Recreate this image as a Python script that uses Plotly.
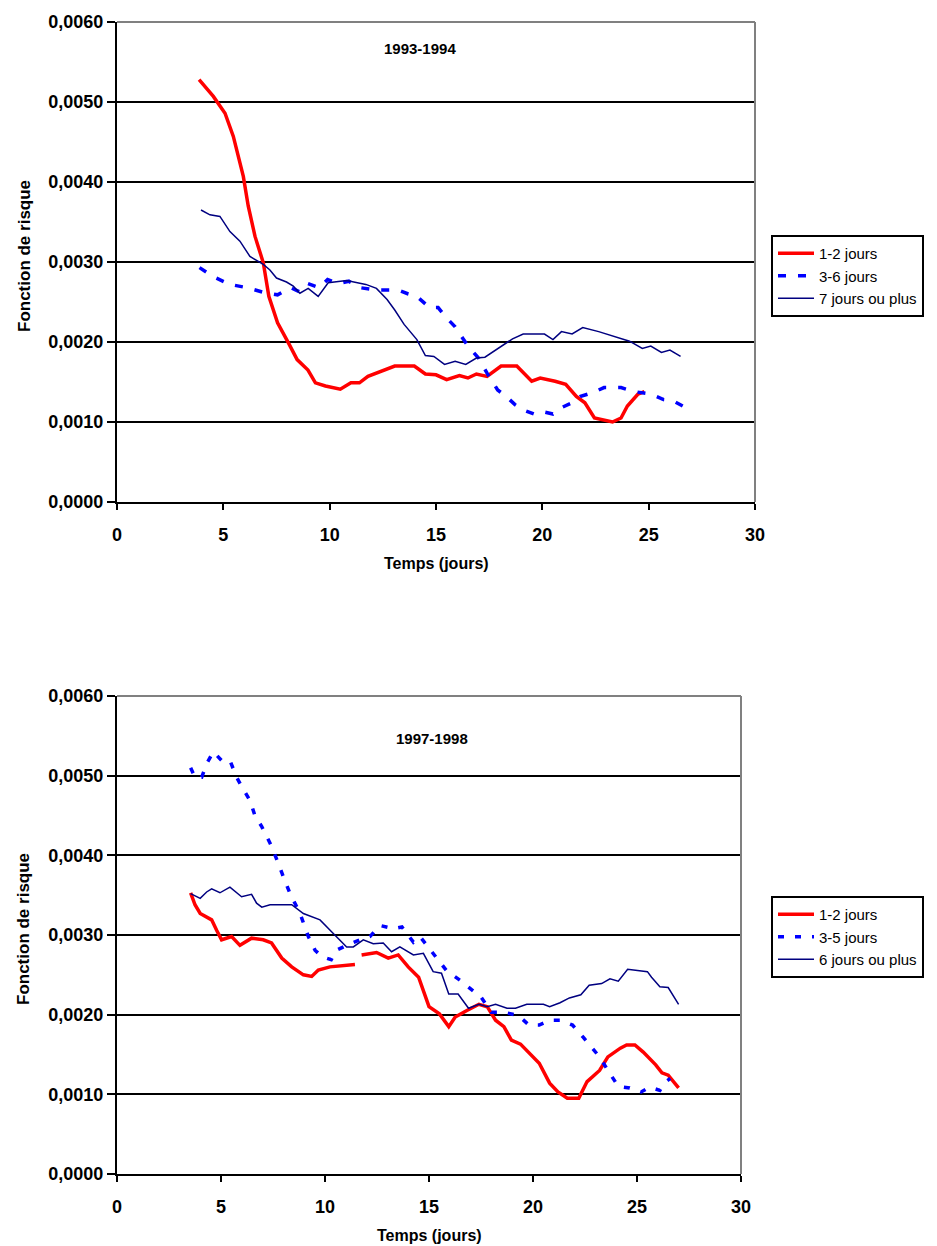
import plotly.graph_objects as go

# ---------------- 1993-1994 ----------------
top_title = "1993-1994"
top_names = ["1-2 jours", "3-6 jours", "7 jours ou plus"]

top_red_x = [3.86, 4.53, 5.08, 5.47, 5.94, 6.17, 6.49, 6.88, 7.14, 7.55, 8.06, 8.47, 8.98, 9.33, 9.80,
             10.5, 11.0, 11.4, 11.8, 12.4, 13.06, 13.98, 14.5, 15.0, 15.5, 16.1, 16.5, 16.9, 17.4, 18.06,
             18.8, 19.5, 19.9, 20.6, 21.1, 21.6, 22.0, 22.45, 22.9, 23.3, 23.7, 24.0, 24.5, 24.8]
top_red_y = [0.00528, 0.00507, 0.00486, 0.00457, 0.00407, 0.00370, 0.00332, 0.00299, 0.00257, 0.00224,
             0.00199, 0.00178, 0.00165, 0.00149, 0.00145, 0.00141, 0.00149, 0.00149, 0.00157, 0.00163,
             0.00170, 0.00170, 0.00160, 0.00159, 0.00153, 0.00158, 0.00155, 0.00160, 0.00157, 0.00170,
             0.00170, 0.00151, 0.00155, 0.00151, 0.00147, 0.00132, 0.00124, 0.00105, 0.00102, 0.00100,
             0.00105, 0.00120, 0.00135, 0.00138]

top_blue_x = [3.88, 4.5, 5.3, 6.1, 6.9, 7.55, 8.16, 8.57, 8.98, 9.5, 9.9, 10.4, 10.9, 11.4, 12.2, 13.2,
              13.7, 14.1, 14.7, 15.1, 15.5, 15.9, 16.5, 17.0, 17.4, 17.9, 18.3, 18.7, 19.1, 19.6, 20.0,
              20.5, 20.9, 21.4, 21.8, 22.4, 22.9, 23.7, 24.3, 25.1, 25.7, 26.1, 26.6]
top_blue_y = [0.00293, 0.00282, 0.00272, 0.00268, 0.00262, 0.00259, 0.00268, 0.00263, 0.00273, 0.00268,
              0.00278, 0.00273, 0.00276, 0.00268, 0.00265, 0.00265, 0.00260, 0.00257, 0.00243, 0.00243,
              0.00230, 0.00219, 0.00195, 0.00180, 0.00161, 0.00140, 0.00132, 0.00122, 0.00115, 0.00110,
              0.00113, 0.00110, 0.00118, 0.00124, 0.00132, 0.00137, 0.00143, 0.00143, 0.00138, 0.00135,
              0.00128, 0.00127, 0.00120]

top_navy_x = [3.95, 4.37, 4.84, 5.31, 5.78, 6.25, 6.88, 7.19, 7.5, 7.97, 8.29, 8.6, 8.99, 9.46, 9.93,
              10.8, 11.7, 12.2, 12.7, 13.06, 13.5, 14.1, 14.5, 14.9, 15.4, 15.9, 16.4, 16.9, 17.3, 17.96,
              18.6, 19.1, 20.1, 20.5, 20.9, 21.4, 21.9, 22.65, 23.5, 24.1, 24.7, 25.1, 25.6, 26.0, 26.5]
top_navy_y = [0.00365, 0.00359, 0.00357, 0.00338, 0.00326, 0.00307, 0.00297, 0.00290, 0.00280, 0.00275,
              0.00270, 0.00261, 0.00267, 0.00257, 0.00274, 0.00277, 0.00272, 0.00267, 0.00253, 0.00240,
              0.00222, 0.00203, 0.00183, 0.00182, 0.00172, 0.00176, 0.00172, 0.00180, 0.00181, 0.00193,
              0.00204, 0.00210, 0.00210, 0.00203, 0.00213, 0.00210, 0.00218, 0.00213, 0.00206, 0.00201,
              0.00192, 0.00195, 0.00187, 0.00190, 0.00182]

# ---------------- 1997-1998 ----------------
bot_title = "1997-1998"
bot_names = ["1-2 jours", "3-5 jours", "6 jours ou plus"]

bot_red_x = [3.54, 3.75, 4.0, 4.31, 4.55, 4.79, 5.03, 5.51, 5.91, 6.47, 7.03, 7.43, 7.92, 8.4, 8.96,
             9.36, 9.68, 10.24, 10.72, 11.44, 11.6, 11.76, 12.48, 13.04, 13.52, 14.0, 14.5, 15.0, 15.5,
             15.95, 16.26, 16.8, 17.4, 17.8, 18.2, 18.6, 18.96, 19.4, 19.9, 20.3, 20.8, 21.2, 21.65,
             22.2, 22.6, 23.2, 23.6, 24.2, 24.5, 24.9, 25.3, 25.9, 26.2, 26.5, 27.0]
bot_red_y = [0.00353, 0.00338, 0.00327, 0.00323, 0.00319, 0.00306, 0.00294, 0.00298, 0.00287, 0.00296,
             0.00294, 0.00290, 0.00271, 0.00260, 0.00250, 0.00248, 0.00256, 0.00260, 0.00261, 0.00263,
             None, 0.00275, 0.00278, 0.00271, 0.00275, 0.00260, 0.00247, 0.00210, 0.00201, 0.00185,
             0.00197, 0.00205, 0.00213, 0.00210, 0.00193, 0.00185, 0.00168, 0.00163, 0.00149, 0.00139,
             0.00114, 0.00103, 0.00095, 0.00095, 0.00116, 0.00130, 0.00147, 0.00158, 0.00162, 0.00162,
             0.00153, 0.00137, 0.00127, 0.00124, 0.00108]

bot_blue_x = [3.54, 3.75, 4.07, 4.31, 4.63, 5.03, 5.43, 5.75, 6.0, 6.39, 6.63, 6.96, 7.44, 7.68, 8.0,
              8.32, 8.8, 9.2, 9.52, 9.84, 10.3, 10.56, 11.04, 11.7, 12.16, 12.64, 13.28, 13.7, 14.25,
              14.57, 15.2, 15.85, 16.5, 17.0, 17.5, 18.0, 18.6, 19.3, 19.8, 20.3, 20.8, 21.3, 21.9,
              22.4, 23.2, 23.7, 24.1, 24.65, 25.2, 25.6, 26.1, 26.3, 26.6]
bot_blue_y = [0.00510, 0.00498, 0.00498, 0.00515, 0.00530, 0.00519, 0.00519, 0.00498, 0.00486, 0.00469,
              0.00450, 0.00436, 0.00411, 0.00394, 0.00373, 0.00352, 0.00327, 0.00298, 0.00281, 0.00273,
              0.00269, 0.00281, 0.00287, 0.00294, 0.00298, 0.00312, 0.00308, 0.00310, 0.00291, 0.00298,
              0.00277, 0.00255, 0.00243, 0.00233, 0.00222, 0.00203, 0.00203, 0.00199, 0.00187, 0.00187,
              0.00193, 0.00193, 0.00187, 0.00172, 0.00147, 0.00126, 0.00110, 0.00108, 0.00103, 0.00109,
              0.00105, 0.00114, 0.00120]

bot_navy_x = [3.54, 4.0, 4.31, 4.55, 4.95, 5.43, 5.99, 6.47, 6.71, 6.96, 7.36, 8.4, 8.96, 9.76, 10.4,
              11.04, 11.36, 11.84, 12.32, 12.8, 13.2, 13.6, 14.25, 14.73, 15.2, 15.6, 15.95, 16.4, 16.9,
              17.4, 17.8, 18.2, 18.75, 19.16, 19.7, 20.5, 20.8, 21.3, 21.75, 22.3, 22.7, 23.3, 23.7,
              24.1, 24.55, 25.07, 25.5, 25.7, 26.1, 26.5, 26.7, 27.0]
bot_navy_y = [0.00352, 0.00346, 0.00354, 0.00358, 0.00353, 0.00360, 0.00348, 0.00351, 0.00340, 0.00335,
              0.00338, 0.00338, 0.00327, 0.00319, 0.00302, 0.00285, 0.00285, 0.00294, 0.00289, 0.00290,
              0.00279, 0.00285, 0.00275, 0.00277, 0.00254, 0.00252, 0.00226, 0.00226, 0.00208, 0.00213,
              0.00210, 0.00213, 0.00208, 0.00208, 0.00213, 0.00213, 0.00210, 0.00215, 0.00221, 0.00225,
              0.00237, 0.00239, 0.00245, 0.00242, 0.00257, 0.00255, 0.00254, 0.00247, 0.00235, 0.00234,
              0.00226, 0.00213]

y_ticks = [0, 0.001, 0.002, 0.003, 0.004, 0.005, 0.006]
x_ticks = [0, 5, 10, 15, 20, 25, 30]
x_title = "Temps (jours)"
y_title = "Fonction de risque"

W, H = 937, 1246
FONT = "Arial, Liberation Sans, sans-serif"

RED = "#FF0000"
BLUE = "#0000FF"
NAVY = "#000080"


def px(xp):
    return xp / W


def py(yp):
    return 1 - yp / H


fig = go.Figure()


def add_panel(xr, yr, leg, names, red, blue, navy, blue_dash):
    fig.add_trace(go.Scatter(x=red[0], y=red[1], name=names[0], mode="lines",
                             line=dict(color=RED, width=3.5), xaxis=xr, yaxis=yr, legend=leg,
                             connectgaps=False))
    fig.add_trace(go.Scatter(x=blue[0], y=blue[1], name=names[1], mode="lines",
                             line=dict(color=BLUE, width=3.5, dash=blue_dash), xaxis=xr, yaxis=yr,
                             legend=leg))
    fig.add_trace(go.Scatter(x=navy[0], y=navy[1], name=names[2], mode="lines",
                             line=dict(color=NAVY, width=1.5), xaxis=xr, yaxis=yr, legend=leg))


add_panel("x", "y", "legend", top_names, (top_red_x, top_red_y), (top_blue_x, top_blue_y),
          (top_navy_x, top_navy_y), "8px,12px")
add_panel("x2", "y2", "legend2", bot_names, (bot_red_x, bot_red_y), (bot_blue_x, bot_blue_y),
          (bot_navy_x, bot_navy_y), "6px,11px")

# plot-area geometry in page pixels
top_px = dict(l=117, r=755, t=22, b=502)
bot_px = dict(l=117, r=741, t=696, b=1174)

tickfont = dict(family=FONT, size=18, color="black", weight="bold")


def xaxis_cfg(p, anchor):
    return dict(domain=[px(p["l"]), px(p["r"])], anchor=anchor, range=[0, 30], tickvals=x_ticks,
                showgrid=False, zeroline=False, showline=True, linecolor="black", linewidth=2,
                ticks="outside", ticklen=6, tickwidth=2, tickcolor="black", tickfont=tickfont,
                ticklabelstandoff=9, automargin=False, fixedrange=True)


def yaxis_cfg(p, anchor):
    return dict(domain=[py(p["b"]), py(p["t"])], anchor=anchor, range=[0, 0.006], tickvals=y_ticks,
                tickformat=".4f", showgrid=True, gridcolor="black", gridwidth=1.5,
                zeroline=False, showline=True, linecolor="black", linewidth=2,
                ticks="outside", ticklen=8, tickwidth=2, tickcolor="black", tickfont=tickfont,
                automargin=False, fixedrange=True)


shapes = []
for p in (top_px, bot_px):
    shapes.append(dict(type="line", xref="paper", yref="paper", layer="above",
                       x0=px(p["l"]), x1=px(p["r"]), y0=py(p["t"]), y1=py(p["t"]),
                       line=dict(color="#808080", width=2)))
    shapes.append(dict(type="line", xref="paper", yref="paper", layer="above",
                       x0=px(p["r"]), x1=px(p["r"]), y0=py(p["t"]), y1=py(p["b"]),
                       line=dict(color="#808080", width=2)))

annotations = []
for p, ttl, tx, ty in ((top_px, top_title, 420, 48), (bot_px, bot_title, 432, 738)):
    annotations.append(dict(text="<b>" + ttl + "</b>", xref="paper", yref="paper",
                            x=px(tx), y=py(ty), showarrow=False,
                            xanchor="center", yanchor="middle",
                            font=dict(family=FONT, size=15, color="black")))
    annotations.append(dict(text="<b>" + x_title + "</b>", xref="paper", yref="paper",
                            x=px((p["l"] + p["r"]) / 2), y=py(p["b"] + 61), showarrow=False,
                            xanchor="center", yanchor="middle",
                            font=dict(family=FONT, size=16, color="black")))
    annotations.append(dict(text="<b>" + y_title + "</b>", xref="paper", yref="paper",
                            x=px(24), y=py((p["t"] + p["b"]) / 2 - 6), showarrow=False,
                            textangle=-90, xanchor="center", yanchor="middle",
                            font=dict(family=FONT, size=17, color="black")))

legend_common = dict(xanchor="left", yanchor="top", bgcolor="white", bordercolor="black",
                     borderwidth=2, font=dict(family=FONT, size=15, color="black"),
                     tracegroupgap=0, itemwidth=36)

fig.update_layout(
    width=W, height=H,
    margin=dict(l=0, r=0, t=0, b=0, autoexpand=False),
    paper_bgcolor="white", plot_bgcolor="white",
    separators=",.",
    font=dict(family=FONT, color="black"),
    xaxis=xaxis_cfg(top_px, "y"),
    yaxis=yaxis_cfg(top_px, "x"),
    xaxis2=xaxis_cfg(bot_px, "y2"),
    yaxis2=yaxis_cfg(bot_px, "x2"),
    legend=dict(x=px(771), y=py(235), **legend_common),
    legend2=dict(x=px(771), y=py(896), **legend_common),
    shapes=shapes,
    annotations=annotations,
    showlegend=True,
)

fig.write_html("out.html")
